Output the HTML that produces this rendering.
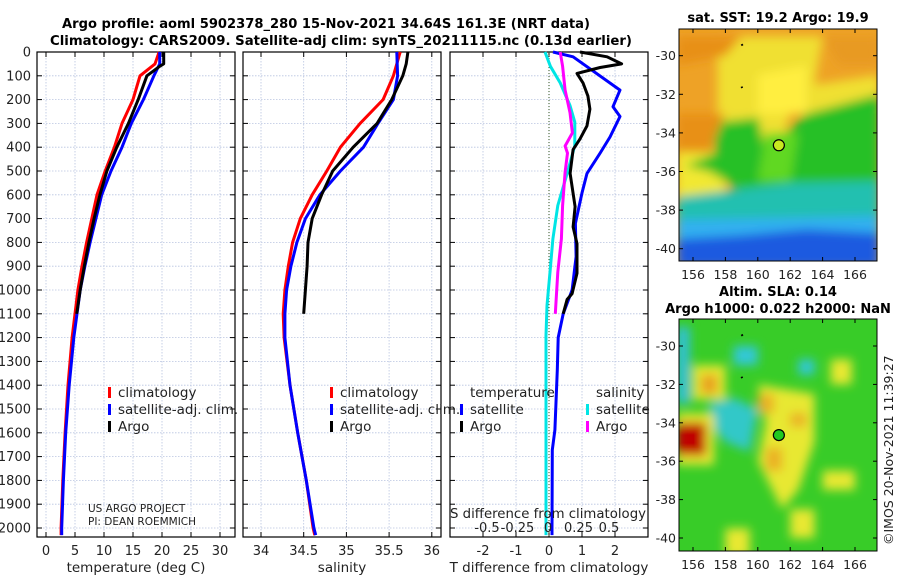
<!DOCTYPE html>
<html><head><meta charset="utf-8"><style>
body{margin:0;background:#fff}
svg{display:block;font-family:"DejaVu Sans","Liberation Sans",sans-serif}
</style></head><body>
<svg id="c" width="900" height="580" viewBox="0 0 900 580">
<defs>
<filter id="bl" filterUnits="userSpaceOnUse" x="600" y="0" width="300" height="580"><feGaussianBlur stdDeviation="5"/></filter>
<clipPath id="cm1"><rect x="679" y="29" width="198" height="232"/></clipPath>
<clipPath id="cm2"><rect x="679" y="319" width="198" height="232"/></clipPath>
</defs>
<text x="326" y="28" text-anchor="middle" font-size="13" font-weight="bold" textLength="528" lengthAdjust="spacingAndGlyphs">Argo profile: aoml 5902378_280 15-Nov-2021 34.64S 161.3E (NRT data)</text>
<text x="341" y="45" text-anchor="middle" font-size="13" font-weight="bold" textLength="582" lengthAdjust="spacingAndGlyphs">Climatology: CARS2009. Satellite-adj clim: synTS_20211115.nc (0.13d earlier)</text>
<g id="maps"></g>
<g id="plots"></g>
</svg>
<script>
// ---------- data ----------
const depthT = [0,50,100,200,300,400,500,600,700,800,900,1000,1200,1400,1600,1800,2000,2030];
const tempClim = [19.5,18.8,16.2,15.0,13.1,11.8,10.2,8.8,7.9,7.0,6.2,5.5,4.5,3.8,3.3,2.9,2.6,2.6];
const tempSat  = [19.6,19.6,18.6,16.8,14.7,13.1,11.2,9.6,8.6,7.6,6.7,5.9,4.8,4.0,3.4,3.0,2.7,2.7];
const depthArgo = [0,50,60,100,200,300,400,500,600,700,800,900,1000,1100];
const tempArgo = [20.3,20.3,19.6,17.4,15.9,14.2,12.2,10.5,9.3,8.3,7.4,6.6,5.9,5.3];
const depthS = [0,100,200,300,400,500,600,700,800,900,1000,1100,1200,1400,1600,1800,2000,2030];
const salClim = [35.63,35.55,35.43,35.16,34.93,34.77,34.60,34.46,34.37,34.32,34.28,34.26,34.27,34.34,34.43,34.53,34.61,34.63];
const salSat  = [35.59,35.60,35.55,35.37,35.20,34.93,34.69,34.52,34.42,34.35,34.30,34.28,34.28,34.34,34.43,34.53,34.62,34.64];
const salArgo = [35.72,35.70,35.66,35.53,35.36,35.08,34.84,34.71,34.60,34.55,34.54,34.52,34.50];
const depthSArgo = [0,50,100,200,300,400,500,600,700,800,900,1000,1100];
const depthDT = [0,20,160,230,271,357,425,510,592,720,860,1000,1100,1200,1336,1588,1672,2000,2030];
const dTsat = [0.12,0.73,2.15,1.94,2.15,1.85,1.55,1.15,1.0,0.8,0.82,0.7,0.43,0.28,0.25,0.18,0.1,0.09,0.09];
const depthDTA = [0,20,50,65,90,130,185,240,310,365,410,510,650,735,805,930,1015,1040,1100];
const dTargo = [0.94,1.76,2.2,1.55,0.85,1.03,1.18,1.24,1.15,0.94,0.73,0.64,0.79,0.73,0.85,0.85,0.7,0.55,0.43];
const depthDS = [0,60,130,225,295,393,505,645,785,925,1065,1190,1600,2030];
const dSsat = [-0.025,0.02,0.1,0.18,0.22,0.22,0.16,0.08,0.04,0.016,-0.008,-0.016,-0.016,-0.016];
const depthDSA = [0,60,160,255,340,395,425,505,645,785,925,1100];
const dSargo = [0.1,0.12,0.14,0.18,0.2,0.14,0.16,0.14,0.12,0.11,0.08,0.06];
const depthTicks = [0,100,200,300,400,500,600,700,800,900,1000,1100,1200,1300,1400,1500,1600,1700,1800,1900,2000];
const tTicks = [0,5,10,15,20,25,30];
const sTicks = [34,34.5,35,35.5,36];
const sTickLabels = ["34","34.5","35","35.5","36"];
const dTTicks = [-2,-1,0,1,2];
const dSTicks = [-0.5,-0.25,0,0.25,0.5];
const dSTickLabels = ["-0.5","-0.25","0","0.25","0.5"];
const latTicks = [-30,-32,-34,-36,-38,-40];
const lonTicks = [156,158,160,162,164,166];

const NS='http://www.w3.org/2000/svg';
function mk(tag,attrs,parent,text){const e=document.createElementNS(NS,tag);for(const k in attrs)e.setAttribute(k,attrs[k]);if(text!==undefined)e.textContent=text;parent.appendChild(e);return e;}
const plots=document.getElementById('plots');
const Y0=52, YS=0.238, YB=537;
const yD=d=>Y0+d*YS;

function panel(name,L,R,xTicks,xLabels,xf,title){
  const g=mk('g',{},plots);
  
  
  depthTicks.forEach(d=>{mk('line',{x1:L,x2:R,y1:yD(d),y2:yD(d),stroke:'#b8c4e0','stroke-width':0.8,'stroke-dasharray':'1.5,1.5'},g);
    mk('line',{x1:L,x2:L+5,y1:yD(d),y2:yD(d),stroke:'#000'},g);mk('line',{x1:R-5,x2:R,y1:yD(d),y2:yD(d),stroke:'#000'},g);});
  xTicks.forEach((v,i)=>{const x=xf(v);mk('line',{x1:x,x2:x,y1:Y0,y2:YB,stroke:'#b8c4e0','stroke-width':0.8,'stroke-dasharray':'1.5,1.5'},g);
    mk('line',{x1:x,x2:x,y1:YB-5,y2:YB,stroke:'#000'},g);mk('line',{x1:x,x2:x,y1:Y0,y2:Y0+5,stroke:'#000'},g);
    if(xLabels){const t=mk('text',{x:x,y:555,'text-anchor':'middle','font-size':13,fill:'#222'},g,xLabels[i]);
      
      }});
  mk('rect',{x:L,y:Y0,width:R-L,height:YB-Y0,fill:'none',stroke:'#000','stroke-width':1.2},g);
  if(title){const t=mk('text',{x:(L+R)/2,y:572,'text-anchor':'middle','font-size':13.5,fill:'#222'},g,title);
    
    }
  return g;
}
function line(g,xs,ds,xf,color,name,w){
  const pts=xs.map((v,i)=>xf(v).toFixed(1)+','+yD(ds[i]).toFixed(1)).join(' ');
  const p=mk('polyline',{points:pts,fill:'none',stroke:color,'stroke-width':w||3,'stroke-linejoin':'round'},g);
  
  
}
depthTicks.forEach(d=>{const t=mk('text',{x:31,y:yD(d)+4.5,'text-anchor':'end','font-size':13,fill:'#222'},plots,String(d));
  
  });

const xT=v=>46+v*5.8;
const g1=panel('temperature-panel',37,235,tTicks,tTicks.map(String),xT,'temperature (deg C)');
line(g1,tempClim,depthT,xT,'#f00','temp-climatology-line');
line(g1,tempSat,depthT,xT,'#00f','temp-satellite-line');
line(g1,tempArgo,depthArgo,xT,'#000','temp-argo-line');
const xS=v=>261+(v-34)*85.4;
const g2=panel('salinity-panel',243,441,sTicks,sTickLabels,xS,'salinity');
line(g2,salClim,depthS,xS,'#f00','sal-climatology-line');
line(g2,salSat,depthS,xS,'#00f','sal-satellite-line');
line(g2,salArgo,depthSArgo,xS,'#000','sal-argo-line');
const xDT=v=>549+v*33;
const xDS=v=>548+v*122;
const g3=panel('difference-panel',450,648,dTTicks,dTTicks.map(String),xDT,'T difference from climatology');
mk('line',{x1:549,x2:549,y1:Y0,y2:YB,stroke:'#335522','stroke-width':1,'stroke-dasharray':'1,2'},g3);
line(g3,dSsat,depthDS,xDS,'#00e5e5','sal-diff-satellite-line');
line(g3,dTsat,depthDT,xDT,'#00f','temp-diff-satellite-line');
line(g3,dTargo,depthDTA,xDT,'#000','temp-diff-argo-line');
line(g3,dSargo,depthDSA,xDS,'#f0f','sal-diff-argo-line');
dSTicks.forEach((v,i)=>{const t=mk('text',{x:xDS(v),y:532,'text-anchor':'middle','font-size':13,fill:'#222'},g3,dSTickLabels[i]);
  
  });
const st=mk('text',{x:548,y:518,'text-anchor':'middle','font-size':13.5,fill:'#222',textLength:196,lengthAdjust:'spacingAndGlyphs'},g3,'S difference from climatology');



function legend(x,y,items,name){
  const g=mk('g',{},plots);
  
  
  items.forEach((it,i)=>{const yy=y+i*17;
    if(it[1])mk('rect',{x:x,y:yy-10,width:3,height:11,fill:it[1]},g);
    mk('text',{x:x+it[2],y:yy,'font-size':13.5,fill:'#222'},g,it[0]);});
}
legend(108,397,[['climatology','#f00',10],['satellite-adj. clim.','#00f',10],['Argo','#000',10]],'temperature-legend');
legend(330,397,[['climatology','#f00',10],['satellite-adj. clim.','#00f',10],['Argo','#000',10]],'salinity-legend');
legend(460,397,[['temperature',null,10],['satellite','#00f',10],['Argo','#000',10]],'temp-diff-legend');
legend(586,397,[['salinity',null,10],['satellite','#00e5e5',10],['Argo','#f0f',10]],'sal-diff-legend');
const pi=mk('text',{x:88,y:512,'font-size':10.5,fill:'#222'},plots,'US ARGO PROJECT');


const pi2=mk('text',{x:88,y:525,'font-size':10.5,fill:'#222'},plots,'PI: DEAN ROEMMICH');



// ---------- maps ----------
const maps=document.getElementById('maps');
const lonX=lon=>693+(lon-156)*16.2;
function mapFrame(top,latY,title1,title2,name,clip,blobs,base,dot){
  const g=mk('g',{},maps);
  
  
  const inner=mk('g',{'clip-path':'url(#'+clip+')'},g);
  mk('rect',{x:679,y:top,width:198,height:232,fill:base},inner);
  const bg=mk('g',{filter:'url(#bl)'},inner);
  blobs.forEach(b=>{
    const pts=b[1].map(p=>lonX(p[0]).toFixed(1)+','+latY(p[1]).toFixed(1)).join(' ');
    mk('polygon',{points:pts,fill:b[0]},bg);
  });
  mk('path',{d:`M${lonX(159)} ${latY(-29.4)}l1 1.5M${lonX(159)} ${latY(-31.6)}l0.5 1.5`,stroke:'#000','stroke-width':2},inner);
  const c=mk('circle',{cx:lonX(161.3),cy:latY(-34.64),r:5.5,fill:dot,stroke:'#000','stroke-width':1.2},g);
  
  
  mk('rect',{x:679,y:top,width:198,height:232,fill:'none',stroke:'#000'},g);
  latTicks.forEach(l=>{const y=latY(l);mk('line',{x1:679,x2:683,y1:y,y2:y,stroke:'#000'},g);mk('line',{x1:873,x2:877,y1:y,y2:y,stroke:'#000'},g);
    mk('text',{x:676,y:y+4.5,'text-anchor':'end','font-size':12.5,fill:'#222'},g,String(l));});
  lonTicks.forEach(l=>{const x=lonX(l);mk('line',{x1:x,x2:x,y1:top+228,y2:top+232,stroke:'#000'},g);mk('line',{x1:x,x2:x,y1:top,y2:top+4,stroke:'#000'},g);
    mk('text',{x:x,y:top+250,'text-anchor':'middle','font-size':12.5,fill:'#222'},g,String(l));});
  title1 && mk('text',{x:778,y:title1[1],'text-anchor':'middle','font-size':13,'font-weight':'bold'},g,title1[0]);
  title2 && mk('text',{x:778,y:title2[1],'text-anchor':'middle','font-size':13,'font-weight':'bold'},g,title2[0]);
}
const lat1=l=>55.7+(-l-30)*19.3;
mapFrame(29,lat1,['sat. SST: 19.2 Argo: 19.9',22],null,'sst-map','cm1',[
 ['#f0e030',[[157.5,-29],[164,-29],[163.5,-31.5],[167.5,-31],[167.5,-33],[162,-33],[161,-36],[158.5,-36],[157.5,-33]]],
 ['#f2e830',[[155,-35],[158,-35],[158,-37.5],[155,-37.5]]],
 ['#ffee40',[[160,-31],[163,-30.5],[163,-33],[160,-33]]],
 ['#28c028',[[157,-33.5],[160,-33.2],[160.5,-35],[163,-33],[167.5,-32],[167.5,-37],[159,-37],[157,-36],[155.5,-35.7],[157.5,-35]]],
 ['#60d820',[[160.5,-34],[162.5,-34],[162,-36.5],[160,-36.5]]],
 ['#20c0b0',[[155,-37.3],[162,-36.6],[167.5,-36.5],[167.5,-41],[155,-41]]],
 ['#30b0f0',[[155,-38.5],[167.5,-38.3],[167.5,-41],[155,-41]]],
 ['#1a5ae0',[[155,-39.5],[159,-39.3],[163,-39],[167.5,-39.2],[167.5,-41],[155,-41]]],
 ['#e89018',[[155,-29],[159,-29],[158,-30],[155,-30.5]]],
 ['#e89018',[[155,-33],[158,-33],[157,-35],[155,-35]]],
 ['#e89a20',[[164,-29],[167.5,-29],[167.5,-30.5],[165,-30.5]]]
],'#eea226','#c8e820');
const lat2=l=>346+(-l-30)*19.2;
mapFrame(319,lat2,['Altim. SLA: 0.14',296],['Argo h1000: 0.022 h2000: NaN',313],'sla-map','cm2',[
 ['#e8e830',[[156,-31],[158,-31],[158,-32.8],[156,-32.8]]],
 ['#e8a020',[[156.5,-31.5],[157.5,-31.5],[157.5,-32.5],[156.5,-32.5]]],
 ['#e8e830',[[160,-32],[163.5,-32.5],[163.5,-35],[162.5,-37.5],[161.5,-38.5],[160,-36],[160.5,-34]]],
 ['#eab028',[[160,-32.5],[161,-32.5],[161,-33.5],[160,-33.5]]],
 ['#eab028',[[162,-33.5],[163,-33.5],[163,-34.2],[162,-34.2]]],
 ['#eab028',[[160.5,-35.3],[161.5,-35.3],[161.5,-36.5],[160.5,-36.5]]],
 ['#e8e830',[[164.5,-30.7],[165.8,-30.7],[165.8,-32],[164.5,-32]]],
 ['#e8e830',[[162,-38.5],[163.5,-38.5],[163.5,-40],[162,-40]]],
 ['#e8e830',[[158,-39.5],[159.5,-39.5],[159.5,-41],[158,-41]]],
 ['#e8e830',[[164,-36.5],[166,-36.5],[166,-37.5],[164,-37.5]]],
 ['#30c8c8',[[157,-33],[158.5,-32.7],[160,-33.3],[159.5,-35.5],[158,-35],[157,-34]]],
 ['#30c8d8',[[158.5,-30],[160,-30],[160,-31],[158.5,-31]]],
 ['#30c8d8',[[162.5,-30.7],[163.5,-30.7],[163.5,-31.5],[162.5,-31.5]]],
 ['#30c0d8',[[155,-29],[155.8,-29],[155.8,-33],[155,-33]]],
 ['#e8e830',[[155,-33.5],[157.3,-33.5],[157.3,-36.2],[155,-36.2]]],
 ['#c00000',[[155,-34],[156.8,-34],[156.8,-35.7],[155,-35.7]]]
],'#38cc28','#20c820');
const cp=mk('text',{x:0,y:0,'font-size':12.5,fill:'#222',transform:'translate(893,545) rotate(-90)'},maps,'©IMOS 20-Nov-2021 11:39:27');


</script>
</body></html>
